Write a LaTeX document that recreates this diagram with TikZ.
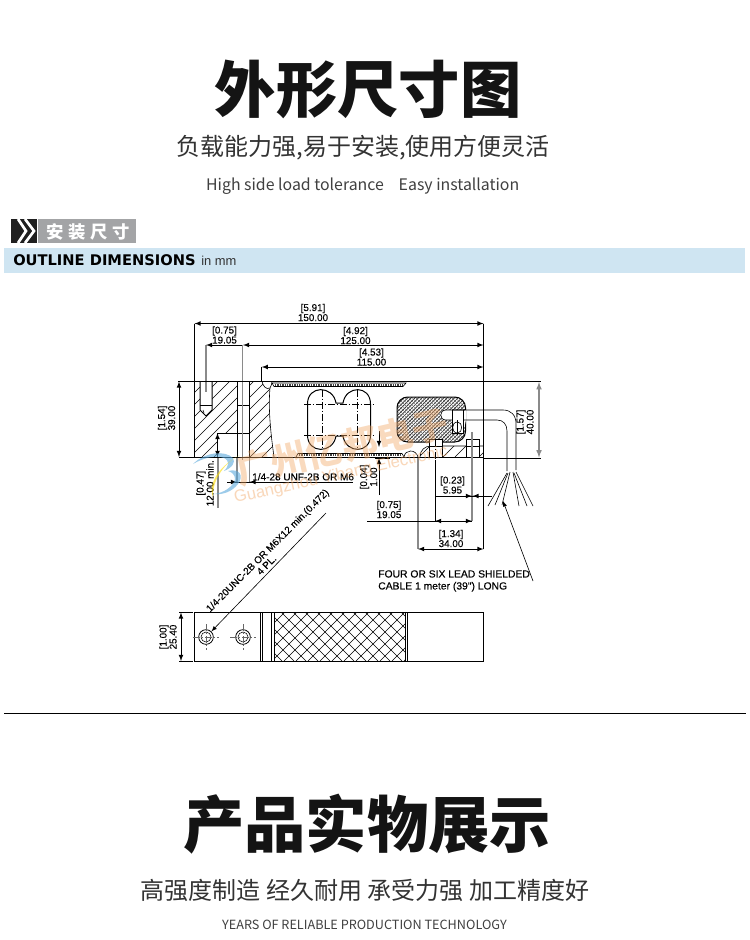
\documentclass[tikz,border=0pt]{standalone}
\usepackage{xcolor}
\usepackage{fontspec}
\usetikzlibrary{arrows}
\setmainfont{Liberation Sans}
\newfontfamily\cjkfont{Noto Sans CJK SC}
\newfontfamily\widefont{DejaVu Sans}
\newfontfamily\dimfont[FakeBold=0.25]{Liberation Sans}
\definecolor{bandblue}{HTML}{CFE5F2}
\definecolor{badgegray}{HTML}{A3A4A6}
\definecolor{inkgray}{HTML}{8A8A8A}
\definecolor{markorange}{HTML}{F2A765}
\definecolor{markblue}{HTML}{5AA9DC}
\tikzset{
  dimlabel/.style={font=\dimfont\fontsize{7.4}{7.5}\selectfont,inner sep=0pt,align=center},
  outline/.style={black,line width=0.75pt},
  thinline/.style={black,line width=0.45pt},
  extline/.style={inkgray,line width=0.9pt},
  centerline/.style={black,line width=0.4pt,dash pattern=on 5pt off 1.5pt on 1pt off 1.5pt},
  dimline/.style={black,line width=0.6pt,>=latex},
  hatchline/.style={black,line width=0.4pt},
  bigtitle/.style={font=\cjkfont\bfseries\fontsize{46}{46}\selectfont,inner sep=0pt,text=black!92},
  subtitle/.style={font=\cjkfont\fontsize{18}{18}\selectfont,inner sep=0pt,text=black!80},
  entitle/.style={font=\cjkfont\fontsize{11.9}{13}\selectfont,inner sep=0pt,text=black!75},
}
\begin{document}
\begin{tikzpicture}[x=0.75pt,y=-0.75pt]
  \useasboundingbox (0,0) rectangle (750,940);
  \fill[white] (0,0) rectangle (750,940);

  % header
  \node[bigtitle] (maintitle) at (368,89) {外形尺寸图};
  \node[subtitle] (mainsub) at (363,147.5) {负载能力强,易于安装,使用方便灵活};
  \node[entitle] (enleft) at (295,186) {High side load tolerance};
  \node[entitle] (enright) at (459,186) {Easy installation};

  % badge and band
  \fill[black!88] (11,219) rectangle (37,243);
  \fill[badgegray] (38,219) rectangle (136,243);
  \begin{scope}
    \clip (11,219) rectangle (37,243);
    \draw[white,line width=2pt] (18,219) -- (26,231) -- (18,243);
    \draw[white,line width=2pt] (25,219) -- (34,231) -- (25,243);
  \end{scope}
  \node[font=\cjkfont\bfseries\fontsize{13}{13}\selectfont,text=white,inner sep=0pt] (badge) at (88.5,231.5) {安\hspace{3.5pt}装\hspace{3.5pt}尺\hspace{3.5pt}寸};
  \fill[bandblue] (4,248) rectangle (745,273);
  \node[anchor=west,inner sep=0pt,font=\widefont\bfseries\fontsize{11}{11}\selectfont] (bandtext) at (13,260) {OUTLINE DIMENSIONS};
  \node[anchor=west,inner sep=0pt,font=\fontsize{9.7}{11}\selectfont,text=black!80] (bandunit) at (201,260.5) {in mm};

  % section: hatching of left block
  \begin{scope}
    \clip (194.5,381.5) -- (262,381.5) .. controls (263,386) and (266,390) .. (270,388)
      .. controls (268,410) and (271,435) .. (274,457) -- (194.5,457) -- cycle;
    \foreach \a in {118,130,...,274}
      \draw[hatchline] (\a,457) -- (\a+76,381);
  \end{scope}
  % holes of left block
  \fill[white] (200,381.5) -- (212,381.5) -- (212,410) -- (206,416) -- (200,410) -- cycle;
  \fill[white] (237,381.5) rectangle (249,457);
  \fill[white] (217,433) rectangle (237,457);
  \draw[outline] (200,381.5) -- (200,410) -- (206,416) -- (212,410) -- (212,381.5);
  \draw[thinline] (203,410) -- (204,413);
  \draw[outline] (200,405) -- (212,405);
  \draw[outline] (237,381.5) -- (237,457);
  \draw[outline] (249,381.5) -- (249,457);
  \draw[outline] (237,405) -- (249,405);
  \draw[outline] (217,457) -- (217,433) -- (249,433);
  \draw[thinline] (270,388) .. controls (268,410) and (271,435) .. (274,457);
  \draw[thinline] (262,381.5) .. controls (263,386) and (266,390) .. (270,388) .. controls (271,386) and (272,384) .. (272,381.5);
  \draw[extline] (206,381) -- (206,392);
  \draw[extline] (242.8,381) -- (242.8,460);

  % body outline
  \draw[outline] (194.5,381.5) -- (483.5,381.5);
  \draw[outline] (179,457) -- (483.5,457);
  \draw[outline] (194.5,381.5) -- (194.5,457);
  \draw[outline] (483.5,323.5) -- (483.5,457);

  % flexure strips
  \draw[thinline] (272,383) -- (406,383) -- (403,386.5) -- (274,386.5) -- cycle;
  \draw[black!75,line width=1.3pt,dash pattern=on 1pt off 0.8pt] (275,384.8) -- (403,384.8);
  \draw[thinline] (296,457) -- (298,453.5) -- (402,453.5) -- (404,457);
  \draw[black!75,line width=1.3pt,dash pattern=on 1pt off 0.8pt] (299,455.2) -- (401,455.2);

  % double bore
  \draw[outline] (307.5,404) .. controls (307.5,385) and (333,385) .. (336,403)
    -- (343,403) .. controls (346,385) and (370.5,385) .. (370.5,404)
    -- (370.5,435) .. controls (370.5,454) and (346,454) .. (343,436)
    -- (336,436) .. controls (333,454) and (307.5,454) .. (307.5,435) -- cycle;
  \draw[centerline] (304,404) -- (375,404);
  \draw[centerline] (304,435) -- (375,435);
  \draw[centerline] (322,390) -- (322,449);
  \draw[centerline] (357,390) -- (357,449);

  % cross-hatched pocket
  \begin{scope}
    \clip[rounded corners=8pt] (397,397) rectangle (465.5,442);
    \foreach \a in {340,343.6,...,470}
      \draw[black!85,line width=0.5pt] (\a,444) -- (\a+50,394);
    \foreach \a in {390,393.6,...,520}
      \draw[black!60,line width=0.3pt] (\a,444) -- (\a-50,394);
  \end{scope}
  \draw[outline,rounded corners=8pt] (397,397) rectangle (465.5,442);
  \fill[white] (466,410) -- (446,410) .. controls (439,410) and (439,420) .. (446,420) -- (452,420) -- (452,433) -- (463,433) -- (466,420) -- cycle;
  \draw[thinline] (465,410) -- (446,410) .. controls (439,410) and (439,420) .. (446,420) -- (452,420);
  \draw[thinline] (452,410) -- (452,433) -- (463,433) -- (463,410);
  \draw[thinline] (457.5,422) .. controls (451,422) and (451,433) .. (457.5,433) .. controls (463,433) and (463,422) .. (457.5,422);
  \draw[thinline] (457.5,420) -- (457.5,435);

  % right lower corner
  \begin{scope}
    \clip (420,457) .. controls (420,450) and (425,446) .. (431,446) -- (483.5,446) -- (483.5,457) -- cycle;
    \foreach \a in {395,407,...,483}
      \draw[hatchline] (\a,457) -- (\a+14,443);
  \end{scope}
  \draw[thinline] (420,457) .. controls (420,450) and (425,446) .. (431,446) -- (483.5,446);
  \draw[thinline] (404,457) .. controls (405,449) and (416,449) .. (418,457);
  \fill[white] (429,439) rectangle (442,457);
  \fill[white] (466,439) rectangle (479,457);
  \draw[thinline] (429,457) -- (429,439) -- (442,439) -- (442,457);
  \draw[thinline] (429,446) -- (442,446);
  \draw[thinline] (466,457) -- (466,439) -- (479,439) -- (479,457);
  \draw[thinline] (466,446) -- (479,446);

  % cable
  \draw[thinline] (452,410) -- (503,410) .. controls (511,410) and (516,415) .. (516,424) -- (516,470);
  \draw[thinline] (463,420) -- (497,420) .. controls (503,420) and (507,424) .. (507,431) -- (507,471);
  \draw[thinline] (507,473) -- (488,506);
  \draw[thinline] (508,473) -- (495,505);
  \draw[thinline] (510,472) -- (502,505);
  \draw[thinline] (513,472) -- (519,506);
  \draw[thinline] (514,473) -- (527,506);
  \draw[thinline] (516,472) -- (533,506);

  % dimensions on top
  \draw[thinline] (194.5,323.5) -- (194.5,381);
  \draw[dimline,<->] (194.5,323.5) -- (483.5,323.5);
  \draw[extline] (206,345) -- (206,381);
  \draw[extline] (242.8,345) -- (242.8,381);
  \draw[dimline,->] (242,345) -- (206,345);
  \draw[dimline,<->] (243,345) -- (483.5,345);
  \draw[thinline] (261.7,367) -- (261.7,381);
  \draw[dimline,<->] (261.7,367) -- (483.5,367);
  \node[dimlabel] (len150) at (313,312.5) {[5.91]\\150.00};
  \node[dimlabel] (len19) at (224.5,335) {[0.75]\\19.05};
  \node[dimlabel] (len125) at (355.5,335.5) {[4.92]\\125.00};
  \node[dimlabel] (len115) at (371.5,357) {[4.53]\\115.00};

  % height on the left
  \draw[thinline] (178,381.5) -- (194.5,381.5);
  \draw[dimline,<->] (179,381.5) -- (179,457);
  \node[dimlabel,rotate=90] (hgt39) at (166.5,418) {[1.54]\\39.00};

  % thread depth and thread note
  \draw[dimline,<->] (217.5,433) -- (217.5,457);
  \draw[extline] (218,458) -- (218,508);
  \node[dimlabel,rotate=90,anchor=west] (dep12) at (205,506.5) {[0.47]\\12.00 min.};
  \draw[extline] (237,458) -- (237,483);
  \draw[extline] (249.5,458) -- (249.5,483);
  \draw[dimline] (227,482) -- (353,482);
  \draw[dimline,->] (228,482) -- (237,482);
  \draw[dimline,->] (258,482) -- (249.5,482);
  \node[anchor=west,inner sep=0pt,font=\dimfont\fontsize{7.5}{8}\selectfont] (thread) at (252,476.8) {1/4-28 UNF-2B OR M6};

  % strip thickness
  \draw[dimline,<-] (379,447) -- (379,431);
  \draw[dimline,->] (379,495) -- (379,458);
  \draw[thinline] (375,458.5) -- (390,458.5);
  \node[dimlabel,rotate=90] (thick) at (368.5,477) {[0.04]\\1.00};

  % dimensions below
  \draw[centerline] (435,440) -- (435,460);
  \draw[thinline] (435,460) -- (435,521);
  \draw[extline] (472,432) -- (472,521);
  \draw[extline] (418,458) -- (418,549);
  \draw[thinline] (483.5,458) -- (483.5,549);
  \draw[dimline] (435,496) -- (492,496);
  \draw[dimline,->] (462,496) -- (472,496);
  \draw[dimline,->] (492,496) -- (472.5,496);
  \draw[dimline] (367,521) -- (472,521);
  \draw[dimline,->] (445,521) -- (435,521);
  \draw[dimline,->] (462,521) -- (472,521);
  \draw[dimline,<->] (418,549) -- (483.5,549);
  \node[dimlabel] (off595) at (452.5,485) {[0.23]\\5.95};
  \node[dimlabel] (off1905) at (389,509.5) {[0.75]\\19.05};
  \node[dimlabel] (off34) at (451,538.5) {[1.34]\\34.00};

  % height on the right
  \draw[thinline] (483.5,381.5) -- (541,381.5);
  \draw[thinline] (483.5,458) -- (541,458);
  \draw[extline,<->,>=latex] (539,382) -- (539,457.5);
  \node[dimlabel,rotate=90] (hgt40) at (525,422) {[1.57]\\40.00};

  % cable note
  \draw[thinline,->,>=latex] (533,581) -- (503,501);
  \node[dimlabel,anchor=north west,align=left,font=\dimfont\fontsize{7.75}{9}\selectfont] (cablenote) at (378,570) {FOUR OR SIX LEAD SHIELDED\\CABLE 1 meter (39") LONG};

  % top view
  \begin{scope}
    \clip (274,612.5) rectangle (405,661);
    \foreach \a in {200,212,...,410}
      \draw[hatchline] (\a,661) -- (\a+49,612);
    \foreach \a in {270,282,...,480}
      \draw[hatchline] (\a,661) -- (\a-49,612);
  \end{scope}
  \draw[outline] (194.5,612.5) rectangle (483.5,661);
  \draw[outline] (260.7,612.5) -- (260.7,661);
  \draw[thinline] (262.7,612.5) -- (262.7,661);
  \draw[thinline] (271.7,612.5) -- (271.7,661);
  \draw[outline] (274,612.5) -- (274,661);
  \draw[outline] (405,612.5) -- (405,661);
  \draw[outline] (407.5,612.5) -- (407.5,661);
  \foreach \cx/\nm in {206/holea,243/holeb} {
    \node[circle,draw=black,line width=0.6pt,minimum size=11pt,inner sep=0pt] (\nm) at (\cx,637) {};
    \draw[black,line width=0.4pt] (\cx,637) circle[radius=5];
    \draw[black!60,line width=0.4pt,dash pattern=on 5pt off 1.5pt on 1pt off 1.5pt] (\cx-13,637) -- (\cx+13,637);
    \draw[black!60,line width=0.4pt,dash pattern=on 5pt off 1.5pt on 1pt off 1.5pt] (\cx,624) -- (\cx,650);
  }
  \draw[thinline] (179,612.5) -- (193,612.5);
  \draw[thinline] (179,661) -- (193,661);
  \draw[dimline,<->] (181,612.5) -- (181,661);
  \node[dimlabel,rotate=90] (wid25) at (168,637) {[1.00]\\25.40};

  % mounting note
  \coordinate (leaderend) at (326,513);
  \draw[thinline,->,>=latex] (leaderend) -- (holea);
  \node[dimlabel,rotate=45,font=\dimfont\fontsize{7.4}{8}\selectfont] (mountnote) at (268,551) {1/4-20UNC-2B OR M6X12 min.(0.472)};
  \node[dimlabel,rotate=45,font=\dimfont\fontsize{7.4}{8}\selectfont] (mountpl) at (266.5,565) {4 PL.};

  % separator and lower header
  \fill[black] (4,712.7) rectangle (746,714.3);
  \node[bigtitle] (prodtitle) at (367,824) {产品实物展示};
  \node[subtitle] (prodsub) at (365,890) {高强度制造 经久耐用 承受力强 加工精度好};
  \node[entitle,font=\cjkfont\fontsize{9.5}{11}\selectfont] (prodeng) at (364.5,925) {YEARS OF RELIABLE PRODUCTION TECHNOLOGY};

  % watermark
  \fill[markblue,opacity=0.6] (193,464) .. controls (205,452) and (225,450) .. (233,458)
    .. controls (236,462) and (232,468) .. (224,471) .. controls (229,466) and (230,461) .. (224,458)
    .. controls (215,455) and (203,458) .. (193,464) -- cycle;
  \fill[markblue,opacity=0.6] (228,471) .. controls (240,468) and (244,476) .. (238,484)
    .. controls (232,492) and (222,495) .. (214,494) .. controls (224,493) and (234,486) .. (235,479)
    .. controls (235,475) and (232,472) .. (228,471) -- cycle;
  \fill[yellow!80!orange,opacity=0.6] (240,455) .. controls (225,462) and (212,480) .. (213,497)
    .. controls (209,490) and (212,470) .. (240,455) -- cycle;
  \node[rotate=13,opacity=0.42,text=markorange,inner sep=0pt,font=\cjkfont\bfseries\fontsize{27}{27}\selectfont] (markcn) at (342,447) {广州亿邦电子};
  \node[rotate=12.6,opacity=0.45,text=markorange,inner sep=0pt,font=\fontsize{12.4}{12}\selectfont] (markdw) at (341,475) {Guangzhou Yibang Electronic};
\end{tikzpicture}
\end{document}
